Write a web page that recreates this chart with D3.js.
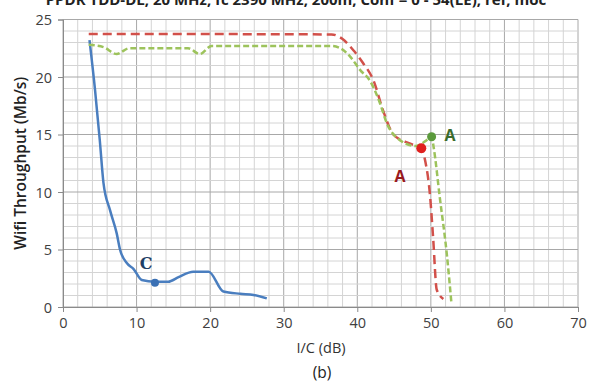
<!DOCTYPE html>
<html>
<head>
<meta charset="utf-8">
<script src="https://cdn.jsdelivr.net/npm/d3@7"></script>
<style>
  body { margin: 0; background: #fff; }
  svg text { font-family: "Open Sans", "DejaVu Sans", sans-serif; }
</style>
</head>
<body>
<div id="chart"></div>
<script>
// data: [I/C dB, throughput Mb/s]
var redSeries = [[3.5,23.75],[36.5,23.7],[38,23.3],[39.5,22.3],[40.8,21.2],[42.2,19.7],[43.5,17.1],
  [44.9,15.0],[47.2,14.2],[48.7,13.8],[49.2,12.8],[49.9,9.6],[50.3,6.1],[50.8,1.5],[51.7,0.7]];
var greenSeries = [[3.5,22.8],[5.5,22.6],[7.3,22.0],[9,22.5],[17,22.5],[18.6,22.0],[20.2,22.7],
  [36.5,22.7],[37.7,22.5],[39,21.8],[40.4,20.6],[41.7,19.7],[43.1,17.7],[44,16.0],[45.4,14.7],
  [48,14.0],[49.2,14.4],[50.1,14.8],[50.4,13.8],[51.2,9.6],[52.2,4.4],[52.8,0.3]];
var blueSeries = [[3.6,23.2],[4.35,18.9],[5.0,14.5],[5.5,10.8],[6.4,8.4],[7.3,6.4],[7.75,5.0],
  [8.7,3.8],[9.6,3.3],[10.7,2.35],[12.5,2.2],[14.3,2.2],[15.7,2.6],[17.7,3.07],[19.8,3.07],
  [21.8,1.35],[24.1,1.15],[25.9,1.05],[27.7,0.75]];
var markers = [
  {x:48.7, y:13.8, color:"#e0201e", r:5},
  {x:50.1, y:14.8, color:"#5b9a3c", r:4.5},
  {x:12.5, y:2.1, color:"#3a70b4", r:4}
];
var notes = [
  {x:45.8, y:11.4, text:"A", color:"#9a1a1e", font:"Open Sans"},
  {x:52.6, y:14.9, text:"A", color:"#3b6b2c", font:"Open Sans"},
  {x:11.3, y:3.8, text:"C", color:"#1f3f66", font:"DejaVu Serif"}
];
var xTicks = [0,10,20,30,40,50,60,70];
var yTicks = [0,5,10,15,20,25];

var margin = {top: 19.5, right: 14, bottom: 78, left: 63},
    width = 592 - margin.left - margin.right,
    height = 385 - margin.top - margin.bottom;

var svg = d3.select("#chart")
  .append("svg")
    .attr("width", 592)
    .attr("height", 385);

// title, only its lower part is visible in the source image
svg.append("text")
  .attr("x", 296)
  .attr("y", 5)
  .attr("text-anchor", "middle")
  .style("font-size", "15px")
  .style("font-weight", "bold")
  .style("fill", "#222")
  .text("PPDR TDD-DL, 20 MHz, fc 2390 MHz, 200m, Conf = 0 - 54(LE), ref, moc");

var g = svg.append("g")
  .attr("transform", "translate(" + margin.left + "," + margin.top + ")");

var x = d3.scaleLinear().domain([0, 70]).range([0, width]);
var y = d3.scaleLinear().domain([0, 25]).range([height, 0]);

// grid: minor every 2 dB / 1 Mb/s, darker every 10 dB / 5 Mb/s
g.selectAll("vminor")
  .data(d3.range(0, 71, 2))
  .enter().append("line")
    .attr("x1", d => x(d)).attr("x2", d => x(d))
    .attr("y1", 0).attr("y2", height)
    .attr("stroke", d => d % 10 === 0 ? "#a8a8a8" : "#d4d4d4")
    .attr("stroke-width", 1);
g.selectAll("hminor")
  .data(d3.range(0, 26, 1))
  .enter().append("line")
    .attr("x1", 0).attr("x2", width)
    .attr("y1", d => y(d)).attr("y2", d => y(d))
    .attr("stroke", d => d % 5 === 0 ? "#a8a8a8" : "#d4d4d4")
    .attr("stroke-width", 1);

// axes
var xAxis = g.append("g")
  .attr("transform", "translate(0," + height + ")")
  .call(d3.axisBottom(x).tickValues(xTicks).tickSize(5).tickPadding(6));
var yAxis = g.append("g")
  .call(d3.axisLeft(y).tickValues(yTicks).tickSize(5).tickPadding(6));
[xAxis, yAxis].forEach(function(a) {
  a.select(".domain").attr("stroke", "#8a8a8a");
  a.selectAll(".tick line").attr("stroke", "#8a8a8a");
  a.selectAll("text").style("font-size", "14.5px").style("fill", "#404040");
});
yAxis.selectAll("text").attr("dy", "0.36em");

var line = d3.line()
  .x(d => x(d[0]))
  .y(d => y(d[1]))
  .curve(d3.curveMonotoneX);

g.append("path")
  .datum(blueSeries)
  .attr("d", line)
  .attr("fill", "none")
  .attr("stroke", "#4a7ebf")
  .attr("stroke-width", 2.5);

g.append("path")
  .datum(redSeries)
  .attr("d", line)
  .attr("fill", "none")
  .attr("stroke", "#d2504a")
  .attr("stroke-width", 2.5)
  .attr("stroke-dasharray", "9,5");

g.append("path")
  .datum(greenSeries)
  .attr("d", line)
  .attr("fill", "none")
  .attr("stroke", "#9dc35c")
  .attr("stroke-width", 2.5)
  .attr("stroke-dasharray", "6,3");

g.selectAll("marker")
  .data(markers)
  .enter().append("circle")
    .attr("cx", d => x(d.x))
    .attr("cy", d => y(d.y))
    .attr("r", d => d.r)
    .attr("fill", d => d.color);

g.selectAll("note")
  .data(notes)
  .enter().append("text")
    .attr("x", d => x(d.x))
    .attr("y", d => y(d.y))
    .attr("text-anchor", "middle")
    .attr("dy", "0.35em")
    .style("font-family", d => d.font)
    .style("font-size", "16px")
    .style("font-weight", "bold")
    .style("fill", d => d.color)
    .text(d => d.text);

// axis labels
svg.append("text")
  .attr("transform", "translate(21," + (margin.top + height / 2) + ") rotate(-90)")
  .attr("text-anchor", "middle")
  .attr("dy", "0.35em")
  .style("font-size", "15.5px")
  .style("font-weight", "600")
  .style("fill", "#222")
  .text("Wifi  Throughput (Mb/s)");

svg.append("text")
  .attr("x", 321)
  .attr("y", 353)
  .attr("text-anchor", "middle")
  .style("font-size", "14.5px")
  .style("fill", "#333")
  .text("I/C   (dB)");

svg.append("text")
  .attr("x", 322)
  .attr("y", 378)
  .attr("text-anchor", "middle")
  .style("font-size", "15.5px")
  .style("fill", "#222")
  .text("(b)");
</script>
</body>
</html>
